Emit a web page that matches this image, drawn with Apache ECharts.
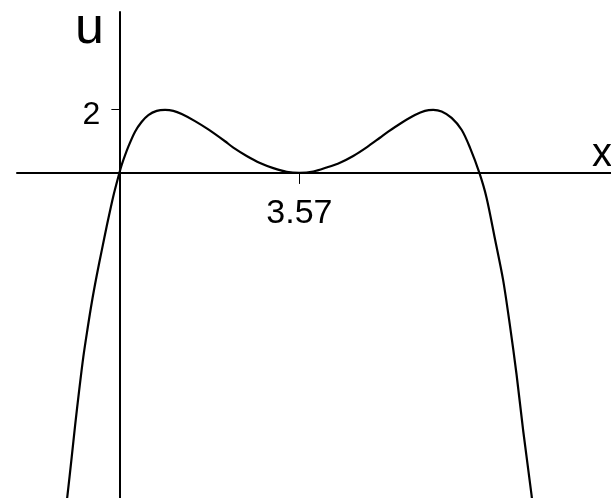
<!DOCTYPE html>
<html>
<head>
<meta charset="utf-8">
<script src="https://cdn.jsdelivr.net/npm/echarts@6/dist/echarts.min.js"></script>
<style>
  html, body { margin: 0; padding: 0; background: #ffffff; }
  #chart { width: 611px; height: 498px; }
</style>
</head>
<body>
<div id="chart"></div>
<script>
// Sampled points of the curve u(x)
const xVals = [-1.06, -1.031, -0.944, -0.878, -0.799, -0.714, -0.634, -0.547, -0.448, -0.349, -0.250, -0.119,
  0, 0.048, 0.178, 0.311, 0.444, 0.575, 0.741, 0.906, 1.070, 1.237, 1.500, 1.764, 2.095, 2.260, 2.525, 2.789,
  3.053, 3.318, 3.57, 3.845, 4.111, 4.375, 4.638, 4.904, 5.168, 5.332, 5.598, 5.861, 6.060, 6.224, 6.391,
  6.589, 6.787, 6.951, 7.14, 7.283, 7.447, 7.611, 7.744, 7.877, 8.008, 8.174, 8.20];
const uVals = [-10.45, -10.1, -8.87, -7.90, -6.82, -5.74, -4.90, -4.05, -3.20, -2.42, -1.66, -0.72,
  0, 0.26, 0.82, 1.29, 1.60, 1.81, 1.94, 1.97, 1.94, 1.84, 1.62, 1.36, 0.99, 0.79, 0.53, 0.31,
  0.15, 0.035, 0, 0.042, 0.17, 0.32, 0.53, 0.80, 1.10, 1.29, 1.57, 1.81, 1.94, 1.97, 1.92,
  1.72, 1.35, 0.80, 0, -0.78, -2.05, -3.35, -4.75, -6.30, -8.05, -10.06, -10.45];

// Marked tick positions and their labels
const xTicks = [3.57];
const yTicks = [2];
const xTickLabels = ['3.57'];
const yTickLabels = ['2'];

// Axis names
const xName = 'x';
const yName = 'u';

const points = xVals.map((x, i) => [x, uVals[i]]);
const FONT = '"Liberation Sans", Arial, sans-serif';

const chart = echarts.init(document.getElementById('chart'), null, { renderer: 'canvas' });
chart.setOption({
  animation: false,
  backgroundColor: '#ffffff',
  grid: { left: 17, right: 0, top: 12, bottom: 0, containLabel: false, outerBoundsMode: 'none' },
  xAxis: {
    type: 'value',
    min: -2.03,
    max: 9.75,
    axisLine: { onZero: true, lineStyle: { color: '#000', width: 2 } },
    axisTick: { show: true, customValues: xTicks, length: 11, lineStyle: { color: '#000', width: 1 } },
    axisLabel: { show: false },
    splitLine: { show: false }
  },
  yAxis: {
    type: 'value',
    min: -10.16,
    max: 5.03,
    axisLine: { onZero: true, lineStyle: { color: '#000', width: 2 } },
    axisTick: { show: true, customValues: yTicks, length: 8, lineStyle: { color: '#000', width: 1 } },
    axisLabel: { show: false },
    splitLine: { show: false }
  },
  graphic: [
    {
      type: 'text', left: 75, top: 3,
      style: { text: yName, fill: '#000', font: '52px ' + FONT }
    },
    {
      type: 'text', left: 592, top: 135,
      style: { text: xName, fill: '#000', font: '40px ' + FONT }
    }
  ],
  series: [
    {
      type: 'line',
      data: points,
      showSymbol: false,
      smooth: 0.3,
      clip: true,
      lineStyle: { color: '#000', width: 2.2 },
      z: 3
    },
    {
      // tick labels sitting on the axes
      type: 'scatter',
      symbolSize: 0,
      silent: true,
      itemStyle: { opacity: 1 },
      data: xTicks.map((v, i) => ({
        value: [v, 0],
        label: { show: true, position: 'bottom', distance: 24, formatter: xTickLabels[i],
                 color: '#000', opacity: 1, fontFamily: FONT, fontSize: 34 }
      })).concat(yTicks.map((v, i) => ({
        value: [0, v],
        label: { show: true, position: 'left', distance: 19, offset: [0, 6], formatter: yTickLabels[i],
                 color: '#000', opacity: 1, fontFamily: FONT, fontSize: 32 }
      })))
    }
  ]
});
</script>
</body>
</html>
